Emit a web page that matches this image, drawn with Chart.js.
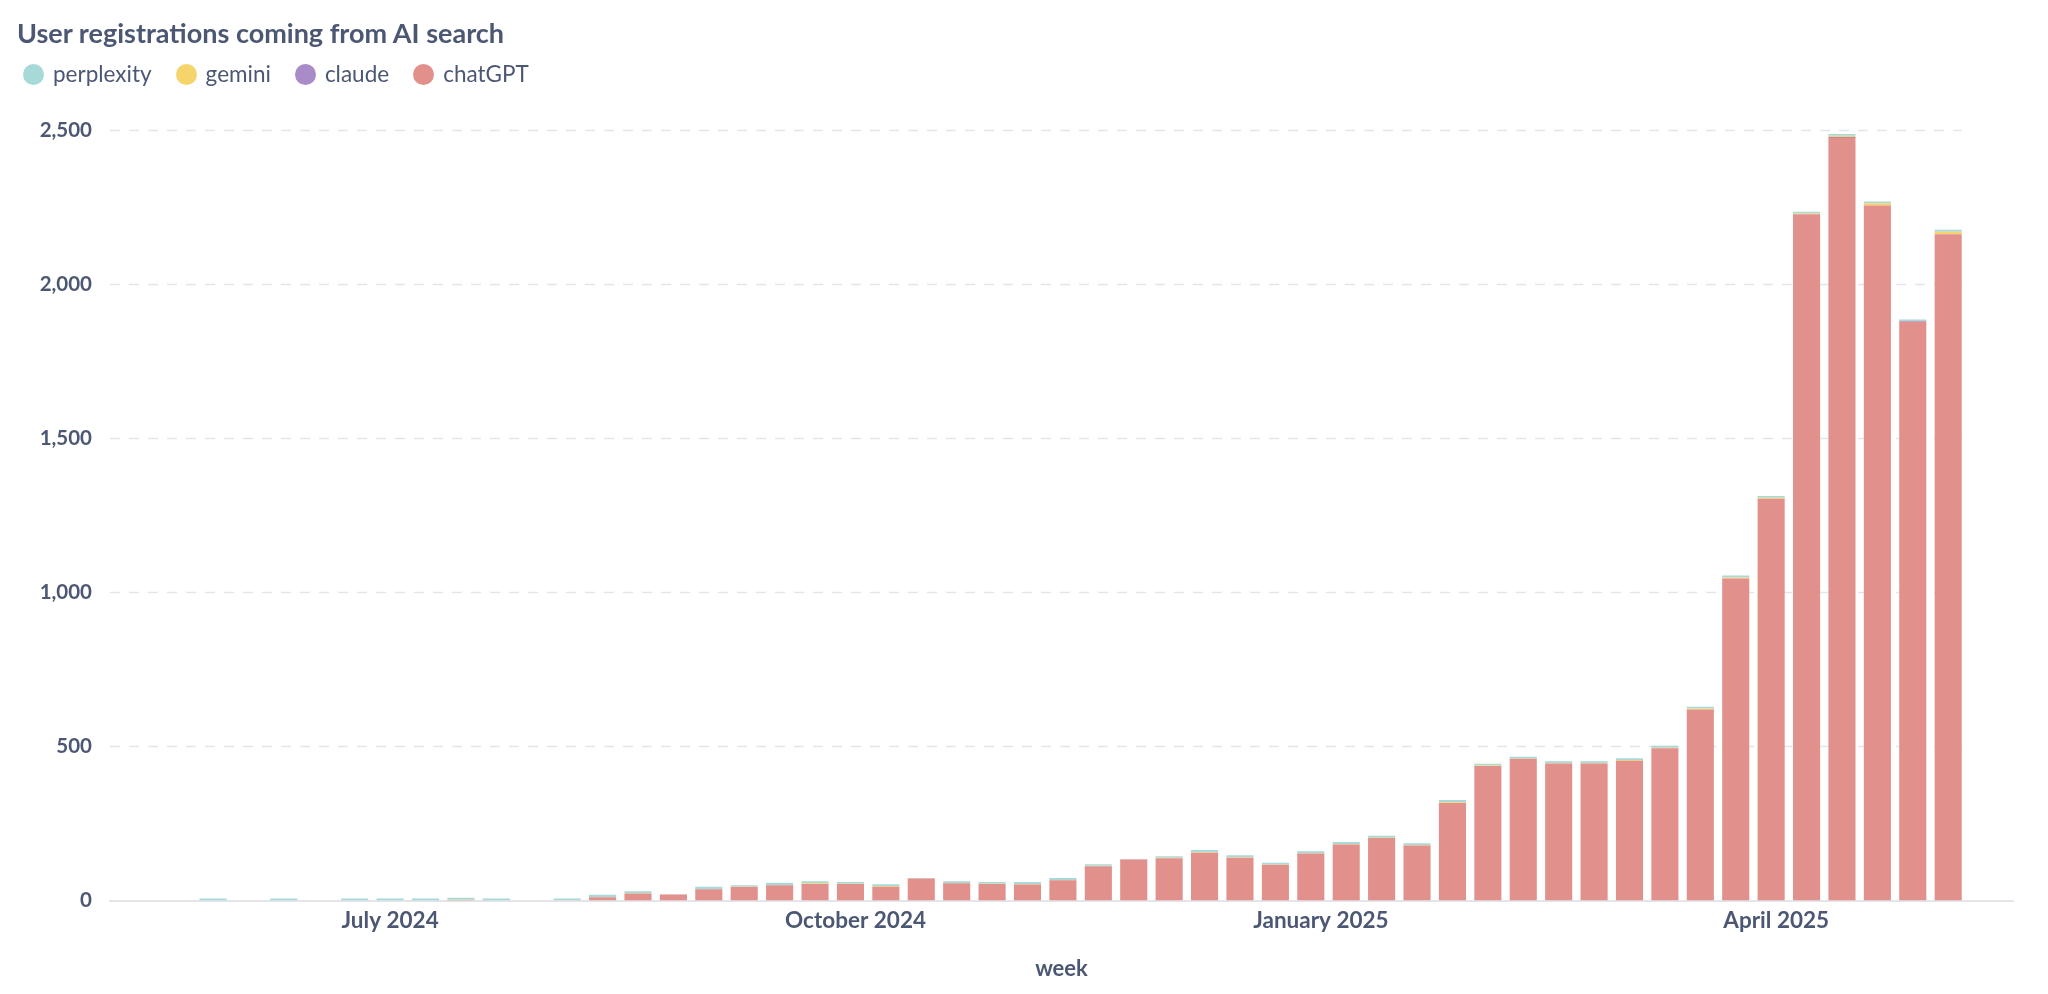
<!DOCTYPE html>
<html>
<head>
<meta charset="utf-8">
<script src="https://cdn.jsdelivr.net/npm/chart.js@4.4.1/dist/chart.umd.min.js"></script>
<style>
  html, body { margin: 0; padding: 0; background: #fff; }
  body { width: 2048px; height: 994px; position: relative; overflow: hidden; font-family: Lato, sans-serif; color: #4c5773; }
  #chart { position: absolute; left: 0; top: 0; }
  #title { position: absolute; left: 17px; top: 18px; font-size: 27px; font-weight: 700; line-height: 30px; }
  #legend { position: absolute; left: 23px; top: 62px; display: flex; align-items: center; font-size: 22.5px; line-height: 24px; }
  .item { display: flex; align-items: center; margin-right: 24px; }
  .dot { width: 21px; height: 21px; border-radius: 50%; margin-right: 9px; }
</style>
</head>
<body>
<canvas id="chart" width="2048" height="994"></canvas>
<div id="title">User registrations coming from AI search</div>
<div id="legend"></div>
<script>
// weekly buckets (week starting Monday)
const weeks = [
  '2024-05-27', '2024-06-03', '2024-06-10', '2024-06-17', '2024-06-24',
  '2024-07-01', '2024-07-08', '2024-07-15', '2024-07-22', '2024-07-29',
  '2024-08-05', '2024-08-12', '2024-08-19', '2024-08-26', '2024-09-02',
  '2024-09-09', '2024-09-16', '2024-09-23', '2024-09-30', '2024-10-07',
  '2024-10-14', '2024-10-21', '2024-10-28', '2024-11-04', '2024-11-11',
  '2024-11-18', '2024-11-25', '2024-12-02', '2024-12-09', '2024-12-16',
  '2024-12-23', '2024-12-30', '2025-01-06', '2025-01-13', '2025-01-20',
  '2025-01-27', '2025-02-03', '2025-02-10', '2025-02-17', '2025-02-24',
  '2025-03-03', '2025-03-10', '2025-03-17', '2025-03-24', '2025-03-31',
  '2025-04-07', '2025-04-14', '2025-04-21', '2025-04-28', '2025-05-05'
];

const chatGPT = [
  0, 0, 0, 0, 0, 0, 0, 2, 0, 0,
  0, 11, 23, 20, 37, 44, 50, 54, 54, 45,
  72, 56, 54, 52, 66, 111, 133, 137, 155, 139,
  116, 153, 182, 203, 179, 317, 437, 460, 445, 445,
  454, 494, 620, 1045, 1304, 2227, 2474, 2255, 1878, 2162
];
const claude = [
  0, 0, 0, 0, 0, 0, 0, 0, 0, 0,
  0, 0, 0, 0, 0, 0, 0, 0, 0, 0,
  0, 0, 0, 0, 0, 1, 0, 0, 0, 0,
  0, 0, 0, 0, 0, 0, 0, 0, 0, 0,
  0, 0, 0, 0, 0, 0, 3, 0, 2, 0
];
const gemini = [
  0, 0, 0, 0, 0, 0, 0, 1, 0, 0,
  1, 1, 1, 0, 1, 1, 1, 2, 1, 2,
  0, 1, 1, 2, 1, 1, 0, 2, 2, 2,
  1, 1, 2, 1, 1, 2, 1, 1, 1, 1,
  2, 2, 3, 3, 3, 2, 4, 7, 0, 8
];
const perplexity = [
  7, 0, 7, 0, 7, 7, 7, 6, 7, 0,
  6, 7, 6, 1, 7, 5, 7, 7, 5, 6,
  1, 6, 5, 6, 6, 5, 2, 5, 7, 6,
  6, 6, 6, 6, 6, 7, 6, 6, 6, 6,
  6, 6, 6, 7, 6, 6, 6, 6, 5, 6
];

const monthTicks = ['2024-07-01', '2024-10-01', '2025-01-01', '2025-04-01'];
const monthLabels = ['July 2024', 'October 2024', 'January 2025', 'April 2025'];
const yTicks = [0, 500, 1000, 1500, 2000, 2500];

const WEEK = 7 * 24 * 3600 * 1000;
const t0 = Date.parse(weeks[0]);
const weekPos = d => (Date.parse(d) - t0) / WEEK;

const series = [
  { name: 'chatGPT', data: chatGPT, color: '#e1908c' },
  { name: 'claude', data: claude, color: '#a88bc7' },
  { name: 'gemini', data: gemini, color: '#f5d46c' },
  { name: 'perplexity', data: perplexity, color: '#a7d9d8' }
];

// legend (listed top of stack first)
const legend = document.getElementById('legend');
series.slice().reverse().forEach(s => {
  const item = document.createElement('div');
  item.className = 'item';
  item.innerHTML = '<span class="dot" style="background:' + s.color + '"></span><span>' + s.name + '</span>';
  legend.appendChild(item);
});

const dashedGrid = {
  id: 'dashedGrid',
  beforeDatasetsDraw(chart) {
    const { ctx, chartArea, scales: { x, y } } = chart;
    const right = x.getPixelForValue(weeks.length - 1 + 0.38);
    ctx.save();
    ctx.strokeStyle = '#e3e5ea';
    ctx.lineWidth = 1.5;
    ctx.setLineDash([10, 9]);
    y.ticks.forEach(t => {
      if (t.value === 0) return;
      const py = Math.round(y.getPixelForValue(t.value)) + 0.5;
      ctx.beginPath();
      ctx.moveTo(chartArea.left, py);
      ctx.lineTo(right, py);
      ctx.stroke();
    });
    ctx.restore();
  }
};

const ctx = document.getElementById('chart').getContext('2d');
new Chart(ctx, {
  type: 'bar',
  data: {
    datasets: series.map(s => ({
      label: s.name,
      data: weeks.map((w, i) => ({ x: weekPos(w), y: s.data[i] })),
      backgroundColor: s.color,
      borderWidth: 0,
      barPercentage: 0.765,
      categoryPercentage: 1
    }))
  },
  options: {
    responsive: false,
    animation: false,
    layout: { padding: { top: 130, right: 35, bottom: 0, left: 0 } },
    plugins: {
      legend: { display: false },
      title: { display: false },
      tooltip: { enabled: false }
    },
    scales: {
      x: {
        type: 'linear',
        stacked: true,
        offset: false,
        bounds: 'data',
        min: -2.91,
        max: 50.83,
        grid: { display: false, drawTicks: false },
        border: { display: true, color: '#e3e5ea', width: 2 },
        afterBuildTicks: scale => {
          scale.ticks = monthTicks.map(m => ({ value: weekPos(m) }));
        },
        ticks: {
          autoSkip: false,
          maxRotation: 0,
          padding: 7,
          color: '#4c5773',
          font: { family: 'Lato', size: 22.5, weight: 'bold' },
          callback: (value, index) => monthLabels[index]
        },
        title: {
          display: true,
          text: 'week',
          color: '#4c5773',
          font: { family: 'Lato', size: 22, weight: 'bold' },
          padding: { top: 14, bottom: 12 }
        }
      },
      y: {
        stacked: true,
        min: 0,
        max: 2500,
        afterFit: scale => { scale.width = 110; },
        afterBuildTicks: scale => {
          scale.ticks = yTicks.map(v => ({ value: v }));
        },
        grid: { display: false, drawTicks: false },
        border: { display: false },
        ticks: {
          padding: 18,
          color: '#4c5773',
          font: { family: 'Lato', size: 20.5, weight: 'bold' },
          callback: v => v.toLocaleString('en-US')
        }
      }
    }
  },
  plugins: [dashedGrid]
});
</script>
</body>
</html>
